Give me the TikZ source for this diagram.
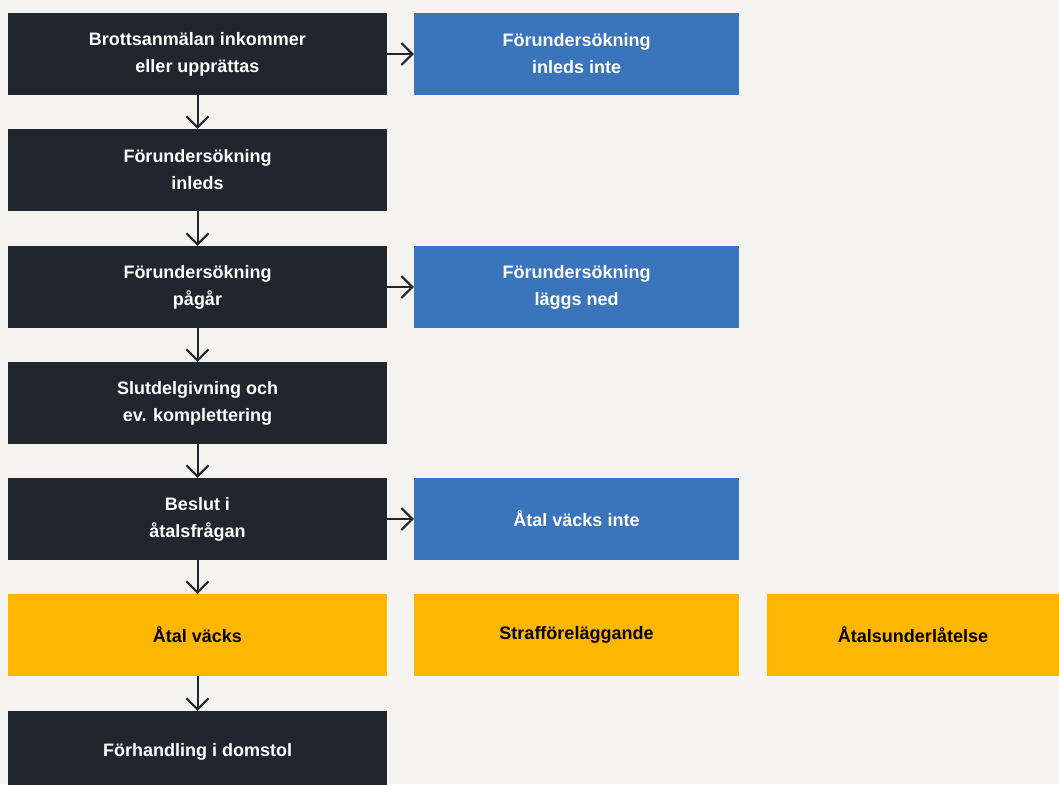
\documentclass[tikz,border=0pt]{standalone}
\usepackage{fontspec}
\setmainfont{Liberation Sans}
\usetikzlibrary{arrows.meta}
\definecolor{bg}{HTML}{F5F3EF}
\definecolor{dark}{HTML}{1F262D}
\definecolor{blueb}{HTML}{3A75BB}
\definecolor{yell}{HTML}{FFB600}
\begin{document}
\begin{tikzpicture}[x=1pt,y=-1pt,
  box/.style={minimum height=82pt,inner sep=0pt,align=center,font=\fontsize{18}{27}\selectfont\bfseries},
  darkbox/.style={box,fill=dark,text=white,minimum width=379pt},
  bluebox/.style={box,fill=blueb,text=white,minimum width=325pt},
  yellbox/.style={box,fill=yell,text=black},
  conn/.style={draw=dark,line width=2pt,-{Straight Barb[length=11pt,width=22pt,line width=2pt]}}]
\fill[bg] (0,0) rectangle (1059,784);
\useasboundingbox (0,0) rectangle (1059,784);
\node[darkbox] (a) at (197.5,54) {Brottsanmälan inkommer\\eller upprättas};
\node[bluebox] (a2) at (576.5,54) {Förundersökning\\inleds inte};
\node[darkbox] (b) at (197.5,170) {Förundersökning\\inleds};
\node[darkbox] (c) at (197.5,287) {Förundersökning\\pågår};
\node[bluebox] (c2) at (576.5,287) {Förundersökning\\läggs ned};
\node[darkbox] (d) at (197.5,403) {Slutdelgivning och\\ev. komplettering};
\node[darkbox] (e) at (197.5,519) {Beslut i\\åtalsfrågan};
\node[bluebox] (e2) at (576.5,519) {Åtal väcks inte};
\node[yellbox,minimum width=379pt] (f) at (197.5,635) {Åtal väcks};
\node[yellbox,minimum width=325pt] (f2) at (576.5,635) {Strafföreläggande};
\node[yellbox,minimum width=292pt] (f3) at (913,635) {Åtalsunderlåtelse};
\node[darkbox] (g) at (197.5,752) {Förhandling i domstol};
\draw[conn] (a) -- (a2);
\draw[conn] (c) -- (c2);
\draw[conn] (e) -- (e2);
\draw[conn] (a) -- (b);
\draw[conn] (b) -- (c);
\draw[conn] (c) -- (d);
\draw[conn] (d) -- (e);
\draw[conn] (e) -- (f);
\draw[conn] (f) -- (g);
\end{tikzpicture}
\end{document}
